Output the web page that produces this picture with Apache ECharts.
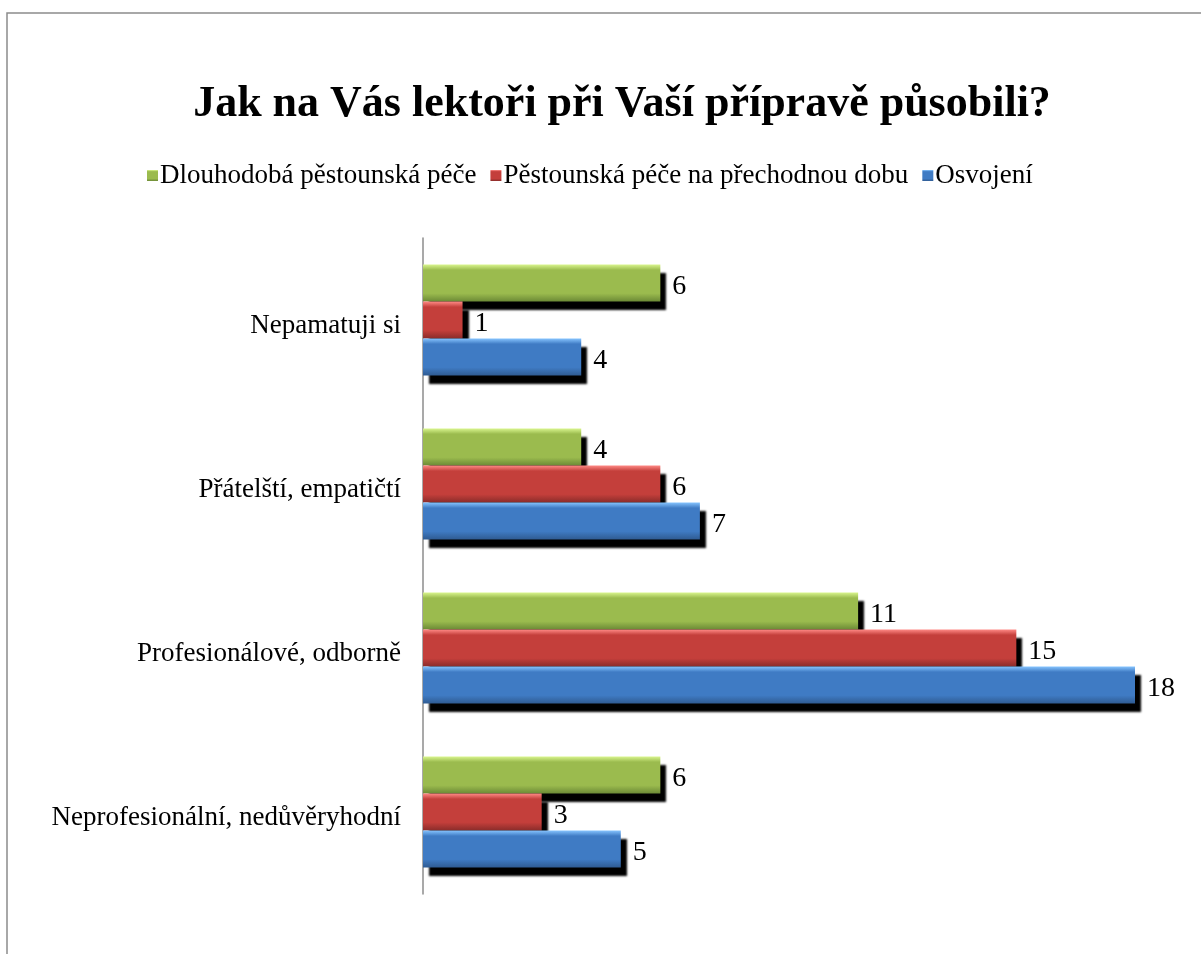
<!DOCTYPE html>
<html>
<head>
<meta charset="utf-8">
<script src="https://cdn.jsdelivr.net/npm/echarts@6/dist/echarts.min.js"></script>
<style>
html,body{margin:0;padding:0;background:#fff;}
#main{width:1201px;height:954px;}
</style>
</head>
<body>
<div id="main"></div>
<script>
// data
var categories = ["Nepamatuji si", "Přátelští, empatičtí", "Profesionálové, odborně", "Neprofesionální, nedůvěryhodní"];
var seriesNames = ["Dlouhodobá pěstounská péče", "Pěstounská péče na přechodnou dobu", "Osvojení"];
var dlouhodoba = [6, 4, 11, 6];
var prechodna = [1, 6, 15, 3];
var osvojeni = [4, 7, 18, 5];

var fontFam = "'Liberation Serif', 'Times New Roman', serif";

// vertical gradient, light top edge and darker bottom edge (bevel look)
function grad(top, mid, bottom){
    return new echarts.graphic.LinearGradient(0, 0, 0, 1, [
        {offset: 0, color: top},
        {offset: 0.15, color: mid},
        {offset: 0.78, color: mid},
        {offset: 1, color: bottom}
    ]);
}
var colors = [
    grad('#d9f58e', '#9bbb4e', '#6c8a36'),
    grad('#ff8a86', '#c43f3b', '#8a2c2a'),
    grad('#86c4ff', '#3f7bc4', '#2f5b92')
];
var solid = ['#9bbb59', '#c0504d', '#4f81bd'];

function makeSeries(name, data, i){
    return {
        name: name,
        type: 'bar',
        data: data,
        barWidth: 37,
        barGap: '0%',
        itemStyle: {
            color: colors[i],
            borderWidth: 0,
            shadowColor: '#000',
            shadowBlur: 2,
            shadowOffsetX: 6,
            shadowOffsetY: 8
        },
        label: {
            show: true,
            position: 'right',
            distance: 12,
            offset: [0, 4],
            color: '#000',
            fontFamily: fontFam,
            fontSize: 28
        }
    };
}

var myChart = echarts.init(document.getElementById("main"));
var option = {
    backgroundColor: '#fff',
    animation: false,
    color: solid,
    graphic: [{
        type: 'rect',
        shape: {x: 7, y: 13, width: 1400, height: 1200},
        style: {fill: 'none', stroke: '#8c8c8c', lineWidth: 1.5},
        silent: true
    }],
    title: {
        text: 'Jak na Vás lektoři při Vaší přípravě působili?',
        left: 617,
        textAlign: 'center',
        top: 78,
        textStyle: {
            fontFamily: fontFam,
            fontWeight: 'bold',
            fontSize: 44,
            color: '#000'
        }
    },
    legend: {
        data: seriesNames,
        top: 157,
        left: 142,
        itemWidth: 11,
        itemHeight: 11,
        itemGap: 14,
        icon: 'rect',
        textStyle: {
            fontFamily: fontFam,
            fontSize: 27,
            color: '#000',
            padding: [0, 0, 0, -3]
        }
    },
    grid: {
        left: 423,
        right: 66,
        top: 238,
        bottom: 60,
        containLabel: false
    },
    xAxis: {
        type: 'value',
        min: 0,
        max: 18,
        show: false
    },
    yAxis: {
        type: 'category',
        data: categories,
        inverse: true,
        axisLine: {show: true, lineStyle: {color: '#8c8c8c', width: 1.5}},
        axisTick: {show: false},
        axisLabel: {
            fontFamily: fontFam,
            fontSize: 27,
            color: '#000',
            margin: 22,
            verticalAlign: 'top',
            lineHeight: 12
        }
    },
    series: [
        makeSeries(seriesNames[0], dlouhodoba, 0),
        makeSeries(seriesNames[1], prechodna, 1),
        makeSeries(seriesNames[2], osvojeni, 2)
    ]
};
myChart.setOption(option, true);
</script>
</body>
</html>
